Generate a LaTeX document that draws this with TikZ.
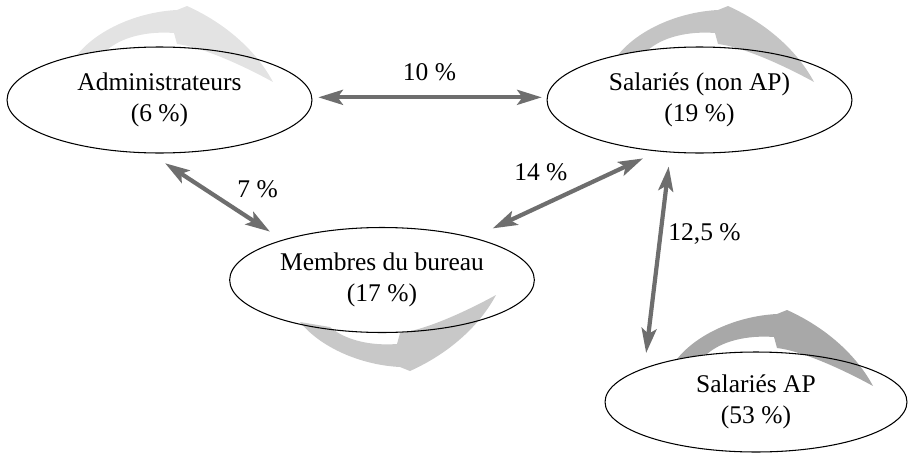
\documentclass[tikz,border=0pt]{standalone}
\usepackage{fontspec}
\setmainfont{Liberation Serif}
\usetikzlibrary{arrows.meta,shapes.geometric}

\definecolor{linkgray}{HTML}{6E6E6E}
\definecolor{admfill}{HTML}{E3E3E3}
\definecolor{salfill}{HTML}{C4C4C4}
\definecolor{burfill}{HTML}{C8C8C8}
\definecolor{apfill}{HTML}{A8A8A8}

\tikzset{
    group/.style={ellipse, draw, line width=0.6pt, minimum width=6.1cm, minimum height=2.12cm,
        align=center, font=\fontsize{14.5}{17.3}\selectfont},
    link/.style={{Stealth[length=14pt,width=8.5pt,inset=3pt]}-{Stealth[length=14pt,width=8.5pt,inset=3pt]},
        line width=2.4pt, draw=linkgray},
    share/.style={font=\fontsize{14.5}{17}\selectfont},
    sweep/.pic={
        \fill[#1] (0,3) .. controls (20,-22) and (60,-40) .. (100,-42) -- (110,-46)
            .. controls (150,-28) and (180,0) .. (196,30)
            .. controls (165,13) and (125,-5) .. (100,-8) -- (97,-19)
            .. controls (70,-21) and (45,-15) .. (30,-2) -- cycle;
    }
}

\begin{document}
\begin{tikzpicture}[x=0.02cm, y=-0.02cm]
            \useasboundingbox (0,0) rectangle (909,453);
            % curved arrows
            \pic at (77,52) {sweep=admfill};
            \pic at (618,52) {sweep=salfill};
            \pic[yscale=-1] at (300,325) {sweep=burfill};
            \pic at (677,356) {sweep=apfill};
            % groups
            \node[group] (admin) at (159.5,100) {Administrateurs\\(6 \%)};
            \node[group] (salarie) at (699.5,100) {Salariés (non AP)\\(19 \%)};
            \node[group, minimum width=6.08cm, minimum height=2.1cm] (bureau) at (382,280) {Membres du bureau\\(17 \%)};
            \node[group, minimum width=6.04cm, minimum height=2cm] (ap) at (756,402) {Salariés AP\\(53 \%)};
            % exchanges
            \draw[link, shorten <=3.4pt, shorten >=2.8pt] (admin.1) -- (salarie.179) node[midway, above=5pt, share] {10 \%};
            \draw[link, shorten <=10.2pt, shorten >=8.5pt] (admin.-100) -- (bureau.158) node[midway, right=7.5pt, yshift=4pt, share] {7 \%};
            \draw[link, shorten <=12.2pt, shorten >=9.3pt] (bureau.25) -- (salarie.-129) node[midway, above=3pt, xshift=-14pt, share] {14 \%};
            \draw[link, shorten <=8pt, shorten >=8.5pt] (salarie.-119.5) -- (ap.163) node[pos=0.38, right, share] {12,5 \%};
        \end{tikzpicture}
\end{document}
